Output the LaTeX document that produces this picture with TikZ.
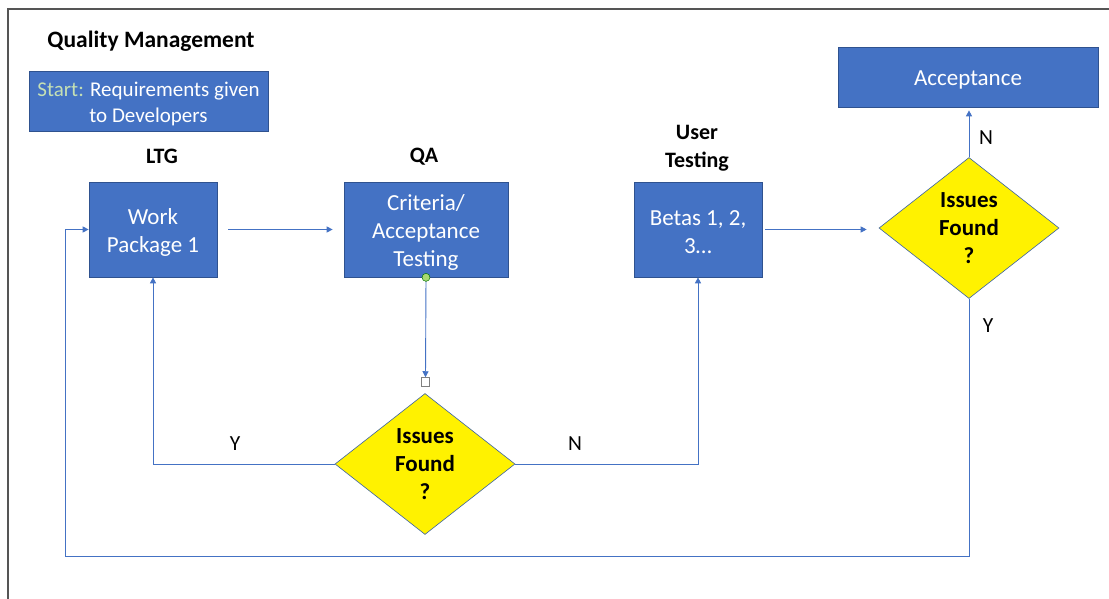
\documentclass[tikz,border=0pt]{standalone}
\usepackage{fontspec}
\setmainfont{Carlito}
\usetikzlibrary{shapes.geometric,arrows.meta}
\definecolor{boxblue}{HTML}{4472C4}
\definecolor{boxedge}{HTML}{2F528F}
\definecolor{linkblue}{HTML}{4472C4}
\definecolor{startgreen}{HTML}{C5E0B4}
\definecolor{framegray}{HTML}{555555}
\definecolor{dotgreen}{HTML}{A9D970}
\begin{document}
\begin{tikzpicture}[x=1pt,y=-1pt,
 box/.style={draw=boxedge,line width=0.7pt,fill=boxblue,inner sep=0pt},
 boxtext/.style={text=white,align=center,inner sep=0pt,yshift=-2.5pt,font=\fontsize{23}{28}\selectfont},
 decision/.style={diamond,draw=linkblue!85!black,line width=0.6pt,fill=yellow,align=center,inner sep=0pt,minimum width=180pt,minimum height=141pt,font=\bfseries\fontsize{23}{28}\selectfont},
 heading/.style={font=\bfseries\fontsize{22}{28}\selectfont,align=center,inner sep=0pt},
 lbl/.style={font=\fontsize{21.5}{24}\selectfont,inner sep=0pt},
 link/.style={draw=linkblue,line width=0.9pt,-{Triangle[length=6pt,width=6pt]}}]
\useasboundingbox (0,0) rectangle (1109,599);
\draw[framegray,line width=1.2pt] (8,599) -- (8,9) -- (1109,9);

\node[heading,font=\bfseries\fontsize{23.5}{28}\selectfont] (title) at (151,41.5) {Quality Management};
\node[box,minimum width=239pt,minimum height=60pt,label={[boxtext,font=\fontsize{21}{26}\selectfont]center:\textcolor{startgreen}{Start:} Requirements given\\to Developers}] (start) at (148.5,101) {};
\node[heading] (ltg) at (162,156.5) {LTG};
\node[heading] (qa) at (424,156.5) {QA};
\node[heading] (ut) at (697,148.5) {User\\Testing};

\node[box,minimum width=128pt,minimum height=95pt,label={[boxtext]center:Work\\Package 1}] (wp) at (153,229.5) {};
\node[box,minimum width=164pt,minimum height=95pt,label={[boxtext]center:Criteria/\\Acceptance\\Testing}] (crit) at (426,229.5) {};
\node[box,minimum width=128pt,minimum height=95pt,label={[boxtext]center:Betas 1, 2,\\3\ldots}] (beta) at (698,229.5) {};
\node[box,minimum width=260pt,minimum height=60pt,label={[boxtext]center:Acceptance}] (acc) at (968,77) {};

\node[decision] (d1) at (425,464) {Issues\\Found\\?};
\node[decision] (d2) at (969,228) {Issues\\Found\\?};

\node[draw=gray,fill=white,minimum width=8pt,minimum height=9pt,inner sep=0pt,line width=0.5pt] (hnd) at (425.5,382) {};

\draw[link,shorten <=11pt,shorten >=11pt] (wp.east) -- (crit.west);
\draw[link] (crit.south) -- (hnd.north);
\node[circle,draw=green!45!black,fill=dotgreen,minimum size=8pt,inner sep=0pt,line width=0.5pt] (dot) at (crit.south) {};

\draw[link] (d1.west) -| (wp.south);
\draw[link] (d1.east) -| (beta.south);
\draw[link,shorten <=3pt,shorten >=12pt] (beta.east) -- (d2.west |- beta.east);
\draw[link,shorten >=3pt] (d2.north) -- (d2.north |- acc.south);
\coordinate (bl) at (65,556);
\draw[link] (d2.south) |- (bl) |- (wp.west);

\node[lbl] (y1) at (235,444) {Y};
\node[lbl] (n1) at (575,444) {N};
\node[lbl] (n2) at (986,138) {N};
\node[lbl] (y2) at (988,326) {Y};
\end{tikzpicture}
\end{document}
